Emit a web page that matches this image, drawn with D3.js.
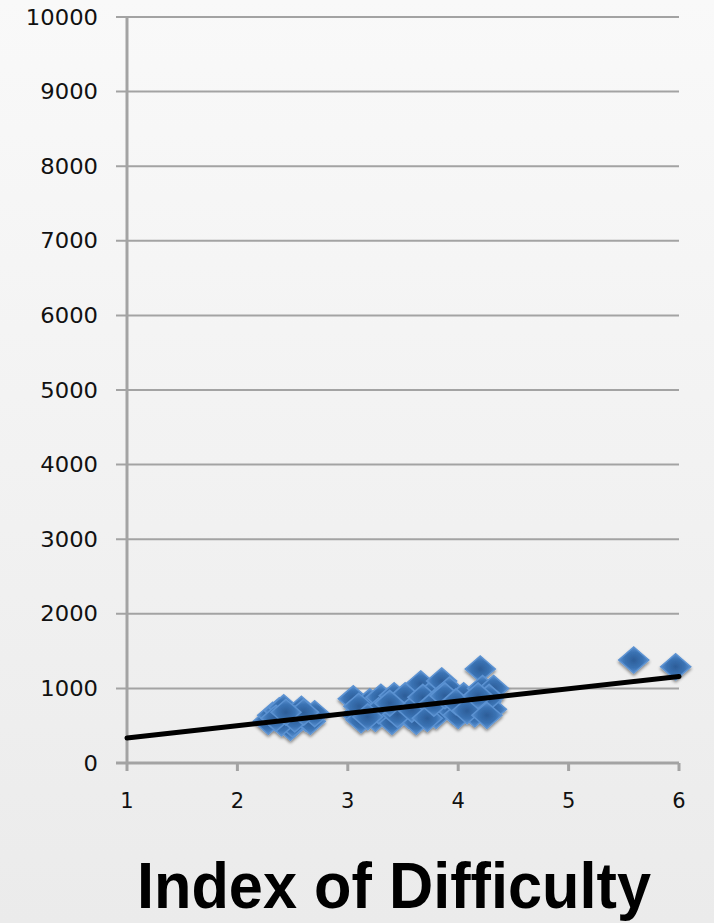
<!DOCTYPE html>
<html><head><meta charset="utf-8">
<script src="https://cdn.jsdelivr.net/npm/d3@7"></script>
<style>html,body{margin:0;padding:0;background:#f2f2f2;}svg{display:block;}</style>
</head><body>
<script>
// ---- data ----
const xTicks = [1, 2, 3, 4, 5, 6];
const yTicks = [0, 1000, 2000, 3000, 4000, 5000, 6000, 7000, 8000, 9000, 10000];
const pointsX = [2.28,2.32,2.38,2.42,2.45,2.48,2.5,2.55,2.58,2.62,2.66,2.7,2.4,2.52,2.35,2.6,2.44,
  3.05,3.08,3.12,3.15,3.2,3.25,3.3,3.35,3.4,3.42,3.5,3.55,3.6,3.62,3.66,3.7,3.75,3.8,3.85,3.9,3.92,3.95,4.0,4.05,4.1,4.15,4.2,4.22,4.25,4.3,4.32,4.28,
  3.1,3.28,3.45,3.52,3.58,3.68,3.72,3.78,3.88,3.98,4.08,4.18,4.26,3.18,3.38,
  5.59,5.97];
const pointsY = [560,640,700,740,600,480,520,650,720,600,560,660,540,590,600,680,680,
  860,650,580,720,820,600,880,700,560,900,780,640,860,560,1060,720,920,640,1100,800,980,700,640,900,760,660,1260,1000,820,720,1000,880,
  760,700,650,900,720,880,600,800,900,820,700,900,640,620,800,
  1380,1290];
const trendX = [1, 6];
const trendY = [335, 1160];
const xTitle = "Index of Difficulty";

const W = 714, H = 923;
const svg = d3.select("body").append("svg").attr("width", W).attr("height", H);
const defs = svg.append("defs");
const bg = defs.append("linearGradient").attr("id","bg").attr("x1",0).attr("y1",0).attr("x2",0).attr("y2",1);
bg.append("stop").attr("offset","0%").attr("stop-color","#f9f9f9");
bg.append("stop").attr("offset","100%").attr("stop-color","#ebebeb");
const mg = defs.append("radialGradient").attr("id","mg");
mg.append("stop").attr("offset","0%").attr("stop-color","#2c5d98");
mg.append("stop").attr("offset","60%").attr("stop-color","#3a72b3");
mg.append("stop").attr("offset","100%").attr("stop-color","#5a90cf");
const f = defs.append("filter").attr("id","sh").attr("x","-50%").attr("y","-50%").attr("width","200%").attr("height","200%");
f.append("feDropShadow").attr("dx",0).attr("dy",2).attr("stdDeviation",1.6).attr("flood-color","#000").attr("flood-opacity",0.45);

svg.append("rect").attr("width",W).attr("height",H).attr("fill","url(#bg)");

const x = d3.scaleLinear().domain([1, 6]).range([127, 679]);
const y = d3.scaleLinear().domain([0, 10000]).range([763, 17]);

// gridlines
svg.append("g").selectAll("line").data(yTicks.filter(d=>d>0)).join("line")
  .attr("x1", 116).attr("x2", x(6)).attr("y1", d=>y(d)).attr("y2", d=>y(d))
  .attr("stroke", "#a3a3a3").attr("stroke-width", 2);

// y axis line
svg.append("line").attr("x1", x(1)).attr("x2", x(1)).attr("y1", y(10000)).attr("y2", y(0))
  .attr("stroke", "#a3a3a3").attr("stroke-width", 3);
// x axis line
svg.append("line").attr("x1", 116).attr("x2", x(6)).attr("y1", y(0)).attr("y2", y(0))
  .attr("stroke", "#a3a3a3").attr("stroke-width", 3);
// x ticks
svg.append("g").selectAll("line").data(xTicks).join("line")
  .attr("x1", d=>x(d)).attr("x2", d=>x(d)).attr("y1", y(0)).attr("y2", y(0)+8)
  .attr("stroke", "#a3a3a3").attr("stroke-width", 3);

// y labels
svg.append("g").selectAll("text").data(yTicks).join("text")
  .attr("x", 98).attr("y", d=>y(d)).attr("dy","0.36em")
  .attr("text-anchor","end").attr("font-family","DejaVu Sans, Verdana, sans-serif")
  .attr("font-size", 21).attr("fill","#111")
  .attr("transform", d=>`translate(${98 - 98*1.08},0) scale(1.08,1)`)
  .text(d=>d);
// x labels
svg.append("g").selectAll("text").data(xTicks).join("text")
  .attr("x", d=>x(d)).attr("y", 800).attr("dy","0.36em")
  .attr("text-anchor","middle").attr("font-family","DejaVu Sans, Verdana, sans-serif")
  .attr("font-size", 21).attr("fill","#111")
  .text(d=>d);

// points
const diamond = "M0,-13 L15,0 L0,13 L-15,0 Z";
const pts = pointsX.map((v,i)=>[v, pointsY[i]]);
svg.append("g").attr("filter","url(#sh)").selectAll("path").data(pts).join("path")
  .attr("d", diamond)
  .attr("transform", d=>`translate(${x(d[0])},${y(d[1])})`)
  .attr("fill","url(#mg)").attr("stroke","#5b92d2").attr("stroke-width",1.5);

// trendline
svg.append("line").attr("x1", x(trendX[0])).attr("y1", y(trendY[0]))
  .attr("x2", x(trendX[1])).attr("y2", y(trendY[1]))
  .attr("stroke","#000").attr("stroke-width",5).attr("stroke-linecap","round");

// title
svg.append("text").attr("x", 394).attr("y", 908).attr("text-anchor","middle")
  .attr("font-family","Liberation Sans, Arial, sans-serif").attr("font-weight","bold")
  .attr("font-size", 64).attr("textLength", 514).attr("lengthAdjust","spacingAndGlyphs")
  .attr("fill","#000").text(xTitle);
</script>
</body></html>
